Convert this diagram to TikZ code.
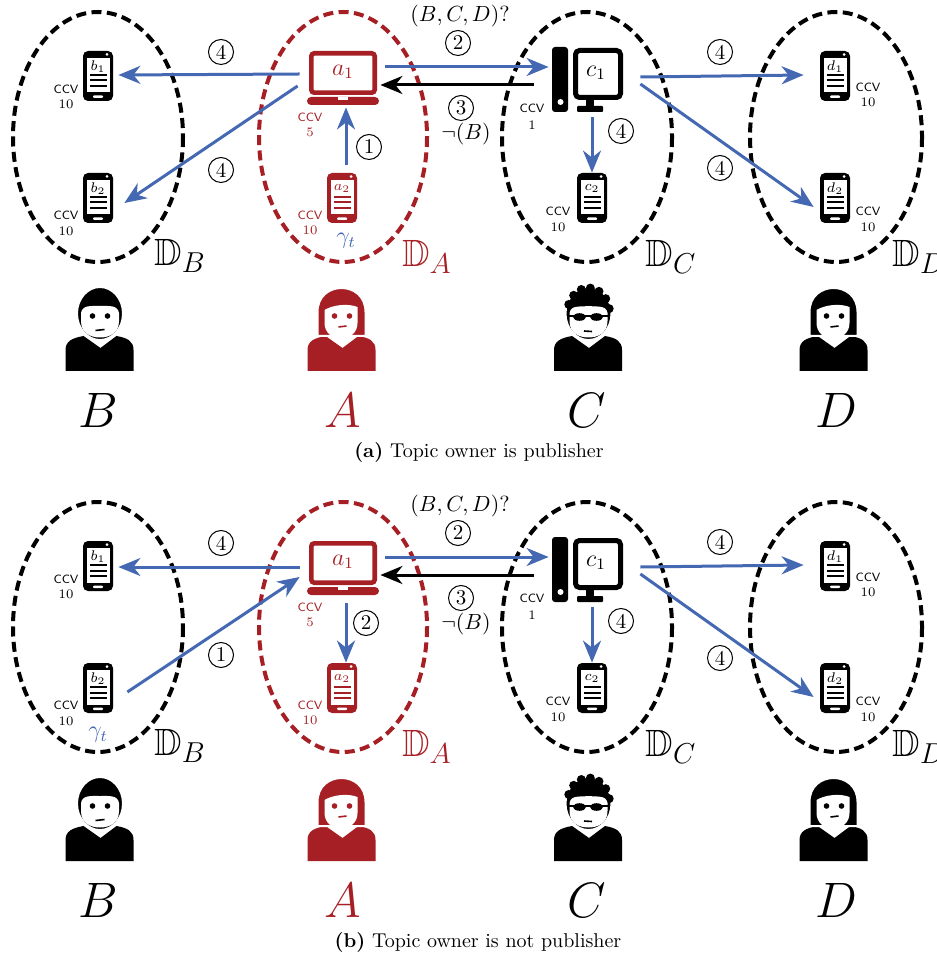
\documentclass[tikz,border=0pt]{standalone}
\usepackage{amssymb}
\usetikzlibrary{arrows.meta,calc}
\definecolor{dred}{RGB}{166,31,36}
\definecolor{dblue}{RGB}{68,104,178}
\tikzset{
  grp/.style={line width=2pt, dash pattern=on 5pt off 2.7pt},
  flow/.style={line width=1.5pt, draw=dblue, -{Stealth[length=11pt,width=9pt,inset=3.5pt]}},
  reply/.style={flow, draw=black},
  numc/.style={circle, draw, line width=0.5pt, inner sep=0pt, minimum size=12.5pt, font=\fontsize{10.5}{10.5}\selectfont},
  ccvtag/.style={font=\sffamily\fontsize{6}{6}\selectfont, inner sep=0pt},
  ccvnum/.style={font=\fontsize{6.5}{6.5}\selectfont, inner sep=0pt},
  phonebox/.style={inner sep=0pt, minimum width=15pt, minimum height=25pt},
  laptopbox/.style={inner sep=0pt, minimum width=36pt, minimum height=27pt},
  desktopbox/.style={inner sep=0pt, minimum width=36pt, minimum height=33pt},
  personbox/.style={inner sep=0pt, minimum width=34.5pt, minimum height=42pt},
  domlabel/.style={font=\fontsize{19}{19}\selectfont, inner sep=0pt},
  who/.style={font=\fontsize{25}{25}\selectfont, inner sep=0pt},
  note/.style={font=\fontsize{10.5}{10.5}\selectfont, inner sep=0pt},
  capt/.style={font=\fontsize{10}{12}\selectfont, inner sep=0pt},
  pics/phone/.style 2 args={code={
    \fill[#1, rounded corners=2.5pt] (-15,-25) rectangle (15,25);
    \fill[white] (-11.5,-18) rectangle (11.5,16.5);
    \fill[white] (9,-21.5) circle (1.5);
    \fill[white, rounded corners=0.5pt] (-5,19.5) rectangle (5,22);
    \node[text=#1, inner sep=0pt, font=\fontsize{7}{7}\selectfont] at (0,-9.5) {$#2$};
    \draw[#1, line width=1pt] (-8.5,-1) -- (8.5,-1) (-8.5,4.5) -- (8.5,4.5) (-8.5,10) -- (8.5,10);
  }},
  pics/laptop/.style 2 args={code={
    \draw[#1, line width=2.3pt, rounded corners=1.5pt] (-31.7,-24.7) rectangle (31.7,14.7);
    \fill[#1, rounded corners=2pt] (-36,19) rectangle (36,27);
    \fill[white] (-5,19) rectangle (5,22);
    \node[text=#1, inner sep=0pt, font=\fontsize{12}{12}\selectfont] at (0,-6) {$#2$};
  }},
  pics/desktop/.style 2 args={code={
    \fill[#1, rounded corners=1.5pt] (-36,-33) rectangle (-20,32);
    \fill[white] (-27.5,22) circle (3);
    \draw[#1, line width=2.5pt, rounded corners=2pt] (-12.5,-29.5) rectangle (32.5,17.5);
    \fill[#1] (-2,20) rectangle (6,26.5);
    \fill[#1, rounded corners=0.5pt] (-11,26) rectangle (15,32);
    \node[text=#1, inner sep=0pt, font=\fontsize{12}{12}\selectfont] at (8,-7) {$#2$};
  }},
  pics/torso/.style={code={
    \fill[#1] (-34,42) -- (-34,21) .. controls (-34,12) and (-27,9) .. (-16,7) -- (1,19)
      -- (17,7) .. controls (28,9) and (34,12) .. (34,21) -- (34,42) -- cycle;
  }},
  pics/man/.style={code={
    \pic {torso=#1};
    \filldraw[fill=#1, draw=white, line width=1pt] (0.5,-15.5) ellipse (23 and 26.5);
    \fill[white] (-18.5,-16) .. controls (-17,-24) and (-9,-23) .. (0.5,-23)
      .. controls (10,-23) and (18,-24) .. (19.5,-16) -- (19.5,-8)
      .. controls (19.5,4) and (10,8.5) .. (0.5,8.5) .. controls (-9,8.5) and (-18.5,4) .. (-18.5,-8) -- cycle;
    \fill[#1] (-7,-13) circle (2.8) (8,-13) circle (2.8);
    \draw[#1, line width=0.8pt] (-4,1.5) -- (5,0.5);
  }},
  pics/woman/.style={code={
    \pic {torso=#1};
    \filldraw[fill=#1, draw=white, line width=1pt] (-24,7) -- (-24,-17)
      .. controls (-24,-49) and (24,-49) .. (24,-17) -- (24,7) -- cycle;
    \fill[white] (-17,-19) .. controls (-9,-24) and (6,-26) .. (16,-22) -- (16,-6)
      .. controls (16,4) and (8,9.5) .. (-0.5,9.5) .. controls (-9,9.5) and (-17,4) .. (-17,-6) -- cycle;
    \fill[#1] (-7,-13) circle (2.8) (8,-13) circle (2.8);
    \draw[#1, line width=0.8pt] (-3,-2) -- (5,-3);
  }},
  pics/shades/.style={code={
    \pic {torso=#1};
    \filldraw[fill=#1, draw=white, line width=1pt] (0.5,-15.5) ellipse (23 and 26.5);
    \foreach \a in {10,35,...,170}
      \fill[#1] ({0.5+21*cos(\a)},{-16-25*sin(\a)}) circle (4.5);
    \fill[white] (-18.5,-16) .. controls (-17,-24) and (-9,-22) .. (0.5,-23)
      .. controls (10,-22) and (18,-24) .. (19.5,-16) -- (19.5,-8)
      .. controls (19.5,4) and (10,8.5) .. (0.5,8.5) .. controls (-9,8.5) and (-18.5,4) .. (-18.5,-8) -- cycle;
    \draw[#1, line width=0.8pt] (-19,-13) -- (20,-13);
    \fill[#1] (-8.5,-12) ellipse (6.5 and 3.8) (8.5,-12) ellipse (6.5 and 3.8);
    \draw[#1, line width=0.8pt] (-4,2) -- (4,2.5);
  }},
}

% One panel: four domains, their devices, the users and the shared messages
\newcommand\drawpanel[1]{%
  \draw[grp] (98,137) ellipse (85 and 125);
  \draw[grp, dred] (343,137) ellipse (84 and 125);
  \draw[grp] (587,137) ellipse (85 and 125);
  \draw[grp] (836,137) ellipse (86 and 125);
  \node[domlabel] (#1DB) at (180,256) {$\mathbb{D}_B$};
  \node[domlabel, text=dred] (#1DA) at (427,257) {$\mathbb{D}_A$};
  \node[domlabel] (#1DC) at (671,257) {$\mathbb{D}_C$};
  \node[domlabel] (#1DD) at (919,257) {$\mathbb{D}_D$};
  % devices
  \node[phonebox] (#1b1) at (98,76) {};   \pic at (#1b1) {phone={black}{b_1}};
  \node[phonebox] (#1b2) at (98,198) {};  \pic at (#1b2) {phone={black}{b_2}};
  \node[laptopbox] (#1a1) at (343,78) {}; \pic at (#1a1) {laptop={dred}{a_1}};
  \node[phonebox] (#1a2) at (342,198) {}; \pic at (#1a2) {phone={dred}{a_2}};
  \node[desktopbox] (#1c1) at (588,80) {}; \pic at (#1c1) {desktop={black}{c_1}};
  \node[phonebox] (#1c2) at (592,198) {}; \pic at (#1c2) {phone={black}{c_2}};
  \node[phonebox] (#1d1) at (835,76) {};  \pic at (#1d1) {phone={black}{d_1}};
  \node[phonebox] (#1d2) at (835,198) {}; \pic at (#1d2) {phone={black}{d_2}};
  % CCV values
  \node[ccvtag] (#1b1t) at (66,89) {CCV};   \node[ccvnum] (#1b1n) at (66,104) {10};
  \node[ccvtag] (#1b2t) at (66,215) {CCV};  \node[ccvnum] (#1b2n) at (66,231) {10};
  \node[ccvtag, text=dred] (#1a1t) at (310,117) {CCV}; \node[ccvnum, text=dred] (#1a1n) at (310,132) {5};
  \node[ccvtag, text=dred] (#1a2t) at (310,215) {CCV}; \node[ccvnum, text=dred] (#1a2n) at (310,230) {10};
  \node[ccvtag] (#1c1t) at (532,108) {CCV}; \node[ccvnum] (#1c1n) at (532,125) {1};
  \node[ccvtag] (#1c2t) at (558,211) {CCV}; \node[ccvnum] (#1c2n) at (558,227) {10};
  \node[ccvtag] (#1d1t) at (868,87) {CCV};  \node[ccvnum] (#1d1n) at (868,102) {10};
  \node[ccvtag] (#1d2t) at (868,211) {CCV}; \node[ccvnum] (#1d2n) at (868,227) {10};
  % users
  \node[personbox] (#1uB) at (99.5,329) {}; \pic at (#1uB) {man=black};
  \node[personbox] (#1uA) at (341.5,329) {}; \pic at (#1uA) {woman=dred};
  \node[personbox] (#1uC) at (588,329) {}; \pic at (#1uC) {shades=black};
  \node[personbox] (#1uD) at (833.5,329) {}; \pic at (#1uD) {woman=black};
  \node[who] (#1B) at (98,410) {$B$};
  \node[who, text=dred] (#1A) at (343,410) {$A$};
  \node[who] (#1C) at (587,410) {$C$};
  \node[who] (#1D) at (836,410) {$D$};
  % query to C and its answer
  \draw[flow] ($(#1a1.east)+(6,-11)$) -- ($(#1c1.west)+(-3,-13)$);
  \draw[reply] ($(#1c1.west)+(-18,5)$) -- ($(#1a1.east)+(1,7)$);
  \node[note] (#1q) at (460,16) {$(B,C,D)?$};
  \node[numc] (#1n2) at (458,43) {2};
  \node[numc] (#1n3) at (461,108) {3};
  \node[note] (#1r) at (466,134) {$\neg(B)$};
  % forwarding inside C and to D
  \draw[flow] ($(#1c1.south)+(4,4)$) -- (#1c2.north);
  \draw[flow] ($(#1c1.east)+(16,-3)$) -- ($(#1d1.west)+(-16,-1)$);
  \draw[flow] ($(#1c1.east)+(16,4)$) -- ($(#1d2.west)+(-6,9)$);
  \node[numc] (#1n4c) at (621,131) {4};
  \node[numc] (#1n4d) at (720,52) {4};
  \node[numc] (#1n4e) at (720,168) {4};
}

\begin{document}
\begin{tikzpicture}[x=0.5pt, y=-0.5pt]
  \useasboundingbox (0,0) rectangle (936,961);

  % (a) the topic owner publishes
  \drawpanel{a}
  \draw[flow] ($(aa2.north)+(4,-8)$) -- ($(aa1.south)+(3,2)$);
  \node[numc] (an1) at (369,147) {1};
  \node[font=\fontsize{12}{12}\selectfont, text=dblue, inner sep=0pt] (agt) at (346,241) {$\gamma_t$};
  \draw[flow] ($(aa1.west)+(-7,-4)$) -- ($(ab1.east)+(5,-1)$);
  \draw[flow] ($(aa1.west)+(-9,8)$) -- ($(ab2.east)+(11,5)$);
  \node[numc] (an4a) at (221,52) {4};
  \node[numc] (an4b) at (221,170) {4};
  \node[capt] (acap) at (479,452) {\textbf{(a)} Topic owner is publisher};

  % (b) another user publishes
  \begin{scope}[yshift=-245pt]
    \drawpanel{b}
    \draw[flow] ($(bb2.east)+(14,4)$) -- ($(ba1.west)+(-7,9)$);
    \node[numc] (bn1) at (221,165) {1};
    \node[font=\fontsize{12}{12}\selectfont, text=dblue, inner sep=0pt] (bgt) at (98,245) {$\gamma_t$};
    \draw[flow] ($(ba1.west)+(-7,-1)$) -- ($(bb1.east)+(5,1)$);
    \node[numc] (bn4a) at (221,53) {4};
    \draw[flow] ($(ba1.south)+(3,8)$) -- ($(ba2.north)+(4,0)$);
    \node[numc] (bn2b) at (366,133) {2};
    \node[capt] (bcap) at (478,452) {\textbf{(b)} Topic owner is not publisher};
  \end{scope}
\end{tikzpicture}
\end{document}
